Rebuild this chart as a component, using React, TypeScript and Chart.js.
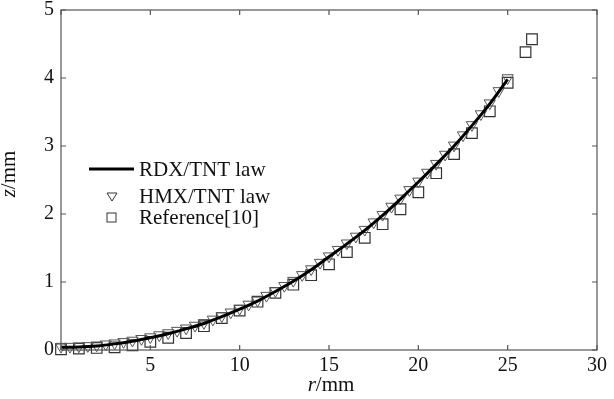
import React, { useEffect, useRef } from 'react';
import { Chart, registerables } from 'chart.js';
Chart.register(...registerables);

// RDX/TNT law (solid line)
const rdxR = [0, 1, 2, 3, 4, 5, 6, 7, 8, 9, 10, 11, 12, 13, 14, 15, 16, 17, 18, 19, 20, 21, 22, 23, 24, 25];
const rdxZ = [0.04, 0.045, 0.06, 0.09, 0.13, 0.18, 0.24, 0.31, 0.39, 0.49, 0.6, 0.72, 0.86, 1.01, 1.18, 1.37, 1.56, 1.76, 1.98, 2.22, 2.47, 2.73, 3.0, 3.3, 3.62, 3.98];

// HMX/TNT law (triangles)
const hmxR = [0, 0.5, 1, 1.5, 2, 2.5, 3, 3.5, 4, 4.5, 5, 5.5, 6, 6.5, 7, 7.5, 8, 8.5, 9, 9.5, 10, 10.5, 11, 11.5, 12, 12.5, 13, 13.5, 14, 14.5, 15, 15.5, 16, 16.5, 17, 17.5, 18, 18.5, 19, 19.5, 20, 20.5, 21, 21.5, 22, 22.5, 23, 23.5, 24, 24.5, 25];
const hmxZ = [0.05, 0.05, 0.055, 0.06, 0.07, 0.085, 0.1, 0.12, 0.14, 0.165, 0.19, 0.22, 0.25, 0.285, 0.32, 0.36, 0.4, 0.45, 0.5, 0.555, 0.61, 0.67, 0.73, 0.8, 0.87, 0.945, 1.02, 1.105, 1.19, 1.285, 1.38, 1.475, 1.57, 1.67, 1.77, 1.88, 1.99, 2.11, 2.23, 2.355, 2.48, 2.61, 2.74, 2.875, 3.01, 3.16, 3.31, 3.47, 3.63, 3.81, 4.0];

// Reference[10] (squares)
const refR = [0, 1, 2, 3, 4, 5, 6, 7, 8, 9, 10, 11, 12, 13, 14, 15, 16, 17, 18, 19, 20, 21, 22, 23, 24, 25, 26, 26.36];
const refZ = [0.01, 0.02, 0.03, 0.04, 0.07, 0.12, 0.18, 0.25, 0.35, 0.47, 0.58, 0.71, 0.84, 0.96, 1.1, 1.26, 1.44, 1.65, 1.85, 2.07, 2.32, 2.6, 2.88, 3.19, 3.51, 3.93, 4.38, 4.57];

const xTicks = [0, 5, 10, 15, 20, 25, 30];
const yTicks = [0, 1, 2, 3, 4, 5];

const legendLabels = ['RDX/TNT law', 'HMX/TNT law', 'Reference[10]'];

const SERIF = '"Liberation Serif", "DejaVu Serif", serif';

const framePlugin = {
  id: 'frameTicks',
  afterDraw(chart: any) {
    const { ctx, chartArea } = chart;
    const { left, right, top, bottom } = chartArea;
    const xs = chart.scales.x;
    const ys = chart.scales.y;
    ctx.save();
    ctx.strokeStyle = '#555';
    ctx.lineWidth = 1.2;
    ctx.strokeRect(left, top, right - left, bottom - top);
    const tl = 5;
    ctx.beginPath();
    xTicks.forEach((v) => {
      const px = xs.getPixelForValue(v);
      ctx.moveTo(px, bottom);
      ctx.lineTo(px, bottom - tl);
      ctx.moveTo(px, top);
      ctx.lineTo(px, top + tl);
    });
    yTicks.forEach((v) => {
      const py = ys.getPixelForValue(v);
      ctx.moveTo(left, py);
      ctx.lineTo(left + tl, py);
      ctx.moveTo(right, py);
      ctx.lineTo(right - tl, py);
    });
    ctx.stroke();

    // axis titles
    ctx.fillStyle = '#111';
    ctx.textBaseline = 'alphabetic';
    const drawMixed = (parts: { t: string; italic: boolean }[], size: number) => {
      let total = 0;
      parts.forEach((p) => {
        ctx.font = `${p.italic ? 'italic ' : ''}${size}px ${SERIF}`;
        total += ctx.measureText(p.t).width;
      });
      let x = -total / 2;
      parts.forEach((p) => {
        ctx.font = `${p.italic ? 'italic ' : ''}${size}px ${SERIF}`;
        ctx.textAlign = 'left';
        ctx.fillText(p.t, x, 0);
        x += ctx.measureText(p.t).width;
      });
    };
    ctx.save();
    ctx.translate(331, 391);
    drawMixed([{ t: 'r', italic: true }, { t: '/mm', italic: false }], 21);
    ctx.restore();
    ctx.save();
    ctx.translate(15, 174);
    ctx.rotate(-Math.PI / 2);
    drawMixed([{ t: 'z', italic: true }, { t: '/mm', italic: false }], 21);
    ctx.restore();

    // legend
    const rows = [169, 196.5, 217.5];
    ctx.font = `21px ${SERIF}`;
    ctx.textAlign = 'left';
    ctx.textBaseline = 'middle';
    legendLabels.forEach((lab, i) => {
      ctx.fillStyle = '#111';
      ctx.fillText(lab, 139, rows[i] + 1);
    });
    ctx.strokeStyle = '#000';
    ctx.lineWidth = 3;
    ctx.beginPath();
    ctx.moveTo(89, rows[0]);
    ctx.lineTo(134, rows[0]);
    ctx.stroke();
    // triangle
    ctx.lineWidth = 1;
    ctx.strokeStyle = '#333';
    const tx = 112, ty = rows[1];
    ctx.beginPath();
    ctx.moveTo(tx - 5, ty - 3.5);
    ctx.lineTo(tx + 5, ty - 3.5);
    ctx.lineTo(tx, ty + 4.5);
    ctx.closePath();
    ctx.stroke();
    // square
    ctx.strokeRect(107, rows[2] - 4.5, 9, 9);
    ctx.restore();
  },
};

export default function App() {
  const ref = useRef<HTMLCanvasElement | null>(null);
  useEffect(() => {
    document.body.style.margin = '0';
    if (!ref.current) return;
    const chart = new Chart(ref.current, {
      type: 'scatter',
      data: {
        datasets: [
          {
            type: 'line',
            label: legendLabels[0],
            data: rdxR.map((r, i) => ({ x: r, y: rdxZ[i] })),
            borderColor: '#000',
            borderWidth: 3,
            pointRadius: 0,
            cubicInterpolationMode: 'monotone',
            fill: false,
            order: 1,
          } as any,
          {
            label: legendLabels[1],
            data: hmxR.map((r, i) => ({ x: r, y: hmxZ[i] })),
            pointStyle: 'triangle',
            rotation: 180,
            pointRadius: 6.5,
            borderColor: '#555',
            backgroundColor: 'rgba(255,255,255,0)',
            borderWidth: 1,
            clip: false,
            order: 2,
          } as any,
          {
            label: legendLabels[2],
            data: refR.map((r, i) => ({ x: r, y: refZ[i] })),
            pointStyle: 'rect',
            pointRadius: 7.5,
            borderColor: '#333',
            backgroundColor: 'rgba(255,255,255,0)',
            borderWidth: 1.2,
            clip: false,
            order: 3,
          } as any,
        ],
      },
      options: {
        animation: false,
        responsive: false,
        layout: { padding: { top: 10, right: 17, left: 0, bottom: 0 } },
        plugins: { legend: { display: false }, tooltip: { enabled: false } },
        scales: {
          x: {
            type: 'linear',
            min: 0,
            max: 30,
            grid: { display: false, drawTicks: false },
            border: { display: false },
            afterBuildTicks: (s: any) => {
              s.ticks = xTicks.map((v) => ({ value: v }));
            },
            afterFit: (s: any) => {
              s.height = 49;
              s.paddingLeft = 0;
              s.paddingRight = 0;
            },
            ticks: {
              padding: 4,
              color: '#111',
              font: { family: SERIF, size: 20 },
              callback: (v: any) => (v === 0 ? '' : String(v)),
              maxRotation: 0,
              autoSkip: false,
            },
          },
          y: {
            type: 'linear',
            min: 0,
            max: 5,
            grid: { display: false, drawTicks: false },
            border: { display: false },
            afterBuildTicks: (s: any) => {
              s.ticks = yTicks.map((v) => ({ value: v }));
            },
            afterFit: (s: any) => {
              s.width = 61;
              s.paddingTop = 0;
              s.paddingBottom = 0;
            },
            ticks: {
              padding: 7,
              color: '#111',
              font: { family: SERIF, size: 20 },
              autoSkip: false,
            },
          },
        },
      },
      plugins: [framePlugin],
    });
    return () => chart.destroy();
  }, []);
  return (
    <div style={{ position: 'absolute', left: 0, top: 0, width: 614, height: 399 }}>
      <canvas ref={ref} width={614} height={399} style={{ display: 'block', width: 614, height: 399 }} />
    </div>
  );
}
